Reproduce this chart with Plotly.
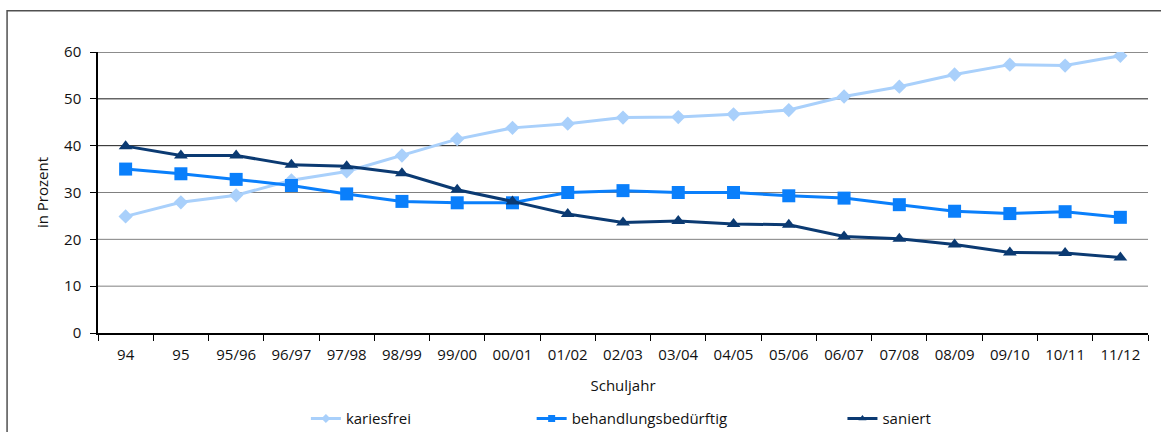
import plotly.graph_objects as go

# School years (x categories)
schuljahre = ["94", "95", "95/96", "96/97", "97/98", "98/99", "99/00", "00/01", "01/02",
              "02/03", "03/04", "04/05", "05/06", "06/07", "07/08", "08/09", "09/10",
              "10/11", "11/12"]

# Share of pupils in percent
kariesfrei = [24.9, 27.9, 29.4, 32.6, 34.5, 37.9, 41.4, 43.8, 44.7, 46.0, 46.1, 46.7,
              47.6, 50.5, 52.6, 55.2, 57.3, 57.1, 59.2]
behandlungsbeduerftig = [35.0, 34.0, 32.8, 31.5, 29.7, 28.1, 27.8, 27.8, 30.0, 30.4, 30.0,
                         30.0, 29.3, 28.8, 27.4, 26.0, 25.5, 25.9, 24.7]
saniert = [39.9, 37.9, 37.9, 35.9, 35.6, 34.1, 30.6, 28.1, 25.4, 23.6, 23.9, 23.3, 23.1,
           20.6, 20.1, 18.9, 17.2, 17.1, 16.1]

y_ticks = [0, 10, 20, 30, 40, 50, 60]

FONT = "Open Sans"
TXT = "#111111"
FS = 15

series = [
    ("kariesfrei", kariesfrei, "#A9D0FB", "diamond", 11, "legend"),
    ("behandlungsbedürftig", behandlungsbeduerftig, "#0A7FFB", "square", 13, "legend2"),
    ("saniert", saniert, "#0B3A72", "triangle-up", 12, "legend3"),
]

fig = go.Figure()

for name, values, color, symbol, size, legend_id in series:
    # data line with full-size markers
    fig.add_trace(go.Scatter(
        x=schuljahre, y=values, name=name, mode="lines+markers",
        line=dict(color=color, width=3),
        marker=dict(symbol=symbol, size=size, color=color),
        showlegend=False,
    ))
    # legend entry with a smaller marker
    fig.add_trace(go.Scatter(
        x=[None], y=[None], name=name, mode="lines+markers",
        line=dict(color=color, width=3),
        marker=dict(symbol=symbol, size=7, color=color),
        legend=legend_id, showlegend=True, hoverinfo="skip",
    ))

# Horizontal gridlines: lower ones grey, upper ones dark
shapes = []
for v in y_ticks[1:]:
    shapes.append(dict(type="line", xref="paper", yref="y", x0=0, x1=1, y0=v, y1=v,
                       line=dict(color="#808080" if v <= 30 else "#1a1a1a", width=1),
                       layer="below"))
# Outer frame around the chart
shapes.append(dict(type="rect", xref="paper", yref="paper", x0=-0.0866, x1=1.2,
                   y0=-0.5, y1=1.147, line=dict(color="#505050", width=1.5),
                   layer="below"))

legend_common = dict(orientation="h", yref="paper", y=-0.305, yanchor="middle",
                     xanchor="left", bgcolor="rgba(0,0,0,0)",
                     font=dict(family=FONT, size=FS, color=TXT))

fig.update_layout(
    width=1161, height=432,
    margin=dict(l=98, r=13, t=52, b=99, autoexpand=False),
    paper_bgcolor="white", plot_bgcolor="white",
    font=dict(family=FONT, size=FS, color=TXT),
    shapes=shapes,
    showlegend=True,
    legend=dict(x=0.198, **legend_common),
    legend2=dict(x=0.413, **legend_common),
    legend3=dict(x=0.709, **legend_common),
    xaxis=dict(
        type="category", range=[-0.5, len(schuljahre) - 0.5],
        tickson="boundaries", ticks="outside", ticklen=6, tickcolor="#000",
        showline=True, linecolor="#000", linewidth=1.5, showgrid=False,
        ticklabelstandoff=7, automargin=False,
        title=dict(text="Schuljahr", standoff=18, font=dict(size=FS)),
    ),
    yaxis=dict(
        range=[0, 60], tickvals=y_ticks, ticks="outside", ticklen=6, tickcolor="#000",
        showline=True, linecolor="#000", linewidth=1.5, showgrid=False, zeroline=False,
        ticklabelstandoff=6, automargin=False,
        title=dict(text="in Prozent", standoff=12, font=dict(size=FS)),
    ),
)

fig.write_html("out.html")
